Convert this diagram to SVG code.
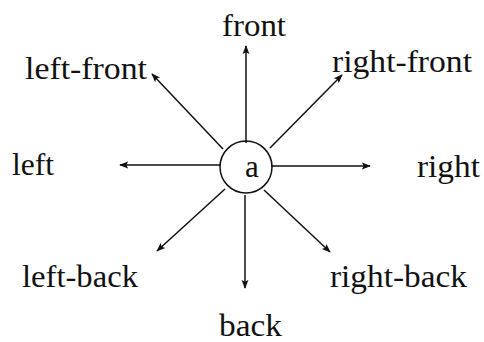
<svg xmlns="http://www.w3.org/2000/svg" width="484" height="342" viewBox="0 0 484 342">
<style>
text{font-family:"Liberation Serif","Times New Roman",serif;font-size:31px;fill:#111}
.c{stroke:#111;stroke-width:1.5;fill:none}
</style>
<defs>
<marker id="ah" viewBox="0 0 10 10" refX="9" refY="5" markerWidth="9" markerHeight="9" markerUnits="userSpaceOnUse" orient="auto">
<path d="M0,1.2 L10,5 L0,8.8 L2,5 Z" fill="#111"/>
</marker>
</defs>
<rect width="484" height="342" fill="#fff"/>
<g id="connectors">
<line class="c" x1="246" y1="143" x2="246" y2="46" marker-end="url(#ah)"/>
<line class="c" x1="245" y1="195" x2="245" y2="288" marker-end="url(#ah)"/>
<line class="c" x1="221" y1="165" x2="120" y2="165" marker-end="url(#ah)"/>
<line class="c" x1="271" y1="166" x2="370" y2="166" marker-end="url(#ah)"/>
<line class="c" x1="223" y1="149" x2="152" y2="74" marker-end="url(#ah)"/>
<line class="c" x1="270" y1="148" x2="342" y2="75" marker-end="url(#ah)"/>
<line class="c" x1="225" y1="189" x2="157" y2="251" marker-end="url(#ah)"/>
<line class="c" x1="264" y1="190" x2="330" y2="252" marker-end="url(#ah)"/>
</g>
<g id="a">
<circle cx="246" cy="167" r="26" class="c"/>
<text x="252" y="177" text-anchor="middle">a</text>
</g>
<g id="front"><text x="222" y="36" textLength="64" lengthAdjust="spacingAndGlyphs">front</text></g>
<g id="left-front"><text x="25" y="79" textLength="122" lengthAdjust="spacingAndGlyphs">left-front</text></g>
<g id="right-front"><text x="332" y="72" textLength="140" lengthAdjust="spacingAndGlyphs">right-front</text></g>
<g id="left"><text x="12" y="175" textLength="42" lengthAdjust="spacingAndGlyphs">left</text></g>
<g id="right"><text x="417" y="177" textLength="63" lengthAdjust="spacingAndGlyphs">right</text></g>
<g id="left-back"><text x="22" y="287" textLength="116" lengthAdjust="spacingAndGlyphs">left-back</text></g>
<g id="right-back"><text x="330" y="287" textLength="137" lengthAdjust="spacingAndGlyphs">right-back</text></g>
<g id="back"><text x="219" y="336" textLength="63" lengthAdjust="spacingAndGlyphs">back</text></g>
</svg>
